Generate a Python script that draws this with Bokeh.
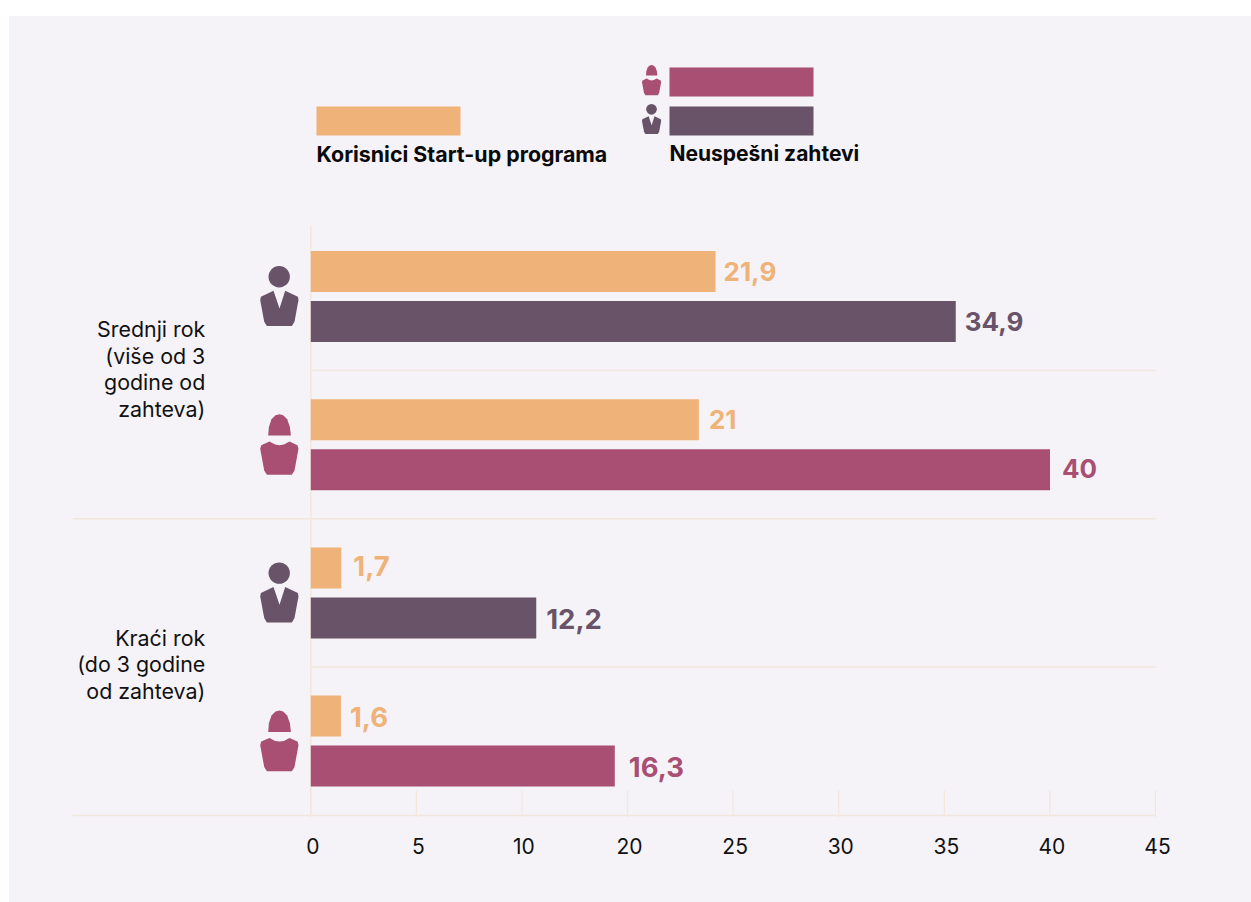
from bokeh.plotting import figure
from bokeh.embed import file_html
from bokeh.resources import INLINE
from bokeh.core.properties import value
from bokeh.models import Range1d, LinearAxis, FixedTicker, GlobalInlineStyleSheet

# ---- data ----
group_labels = ["Srednji rok\n(više od 3\ngodine od\nzahteva)", "Kraći rok\n(do 3 godine\nod zahteva)"]
pair_gender = ["m", "f", "m", "f"]
startup_values = [21.9, 21.0, 1.65, 1.63]
rejected_values = [34.9, 40.0, 12.2, 16.45]
startup_labels = ["21,9", "21", "1,7", "1,6"]
rejected_labels = ["34,9", "40", "12,2", "16,3"]
tick_labels = ["0", "5", "10", "20", "25", "30", "35", "40", "45"]
legend_labels = ["Korisnici Start-up programa", "Neuspešni zahtevi"]

# ---- style ----
ORANGE, PURPLE, MAGENTA = "#EFB278", "#685369", "#A84F73"
PANEL, GRID, INK = "#F5F3F7", "#F2E7DD", "#111111"
FONT = value("Inter")

# ---- geometry (page pixels) ----
PX_UNIT = 18.48          # pixels per data unit on x
X0 = 310.3               # page x of zero
PAIR_TOP, PAIR_STEP = 296.0, 148.2
W, H = 1251, 902
FRAME_L, FRAME_R, FRAME_T, FRAME_B = 72, 1165, 0, 817
LINE_R, BASE_Y = 1155, 815
TICK_STEP = (LINE_R - X0) / 8 / PX_UNIT

def X(px):
    return (px - X0) / PX_UNIT

def Y(py):
    return (py - PAIR_TOP) / PAIR_STEP

p = figure(width=W, height=H, output_backend="svg", toolbar_location=None,
           x_range=Range1d(X(FRAME_L), X(FRAME_R)), y_range=Range1d(Y(FRAME_B), Y(FRAME_T)),
           x_axis_location=None, y_axis_location=None,
           min_border_left=FRAME_L, min_border_right=W - FRAME_R,
           min_border_top=0, min_border_bottom=H - FRAME_B,
           background_fill_color=None, border_fill_color=None, outline_line_color=None)
p.grid.visible = False
# panel behind the figure, running to the window's edges
p.stylesheets = [GlobalInlineStyleSheet(css=(
    f"html{{background:linear-gradient({PANEL},{PANEL}) 9px 16px no-repeat #fff;}}"
    "body{background:transparent;}"))]

# ---- axis: tick labels sit 2px to the right of their tick marks ----
ticks = [i * TICK_STEP for i in range(len(tick_labels))]
shift = 2 / PX_UNIT
label_ticks = [t + shift for t in ticks]
label_axis = LinearAxis(ticker=FixedTicker(ticks=label_ticks),
                        major_label_overrides=dict(zip(label_ticks, tick_labels)),
                        major_tick_in=0, major_tick_out=0, minor_tick_line_color=None,
                        axis_line_color=None, major_tick_line_color=None,
                        major_label_text_font="Inter", major_label_text_font_size="21px",
                        major_label_text_color=INK, major_label_standoff=20)
p.add_layout(label_axis, "below")

# tick marks, baseline, zero line and separators
p.segment(ticks, [Y(790)] * len(ticks), ticks, [Y(817)] * len(ticks), line_color=GRID, line_width=1.2)
p.segment([X(FRAME_L)], [Y(BASE_Y)], [X(LINE_R)], [Y(BASE_Y)], line_color=GRID, line_width=1.5)
p.segment([0], [Y(225)], [0], [Y(BASE_Y)], line_color=GRID, line_width=1.5)
seps = [0.5, 1.5, 2.5]
sep_x0 = [0, X(FRAME_L), 0]
p.segment(sep_x0, seps, [X(LINE_R)] * 3, seps, line_color=GRID, line_width=1.5)

# ---- bars ----
OFFSET = 25 / PAIR_STEP
BAR_H = 41 / PAIR_STEP
pairs = list(range(len(startup_values)))
colors = [PURPLE if g == "m" else MAGENTA for g in pair_gender]
p.hbar(y=[k - OFFSET for k in pairs], right=startup_values, left=0, height=BAR_H, color=ORANGE, line_color=None)
p.hbar(y=[k + OFFSET for k in pairs], right=rejected_values, left=0, height=BAR_H, color=colors, line_color=None)

# ---- value labels ----
startup_gap = [8, 10, 12, 9]
rejected_gap = [9, 12, 10, 14]
startup_lift = [0, 0, -2, 1]
rejected_lift = [0, -1, 1, 1]
label_size = ["26px", "26px", "27.5px", "27.5px"]
for k in pairs:
    p.text([startup_values[k]], [k - OFFSET], text=[startup_labels[k]],
           x_offset=startup_gap[k], y_offset=startup_lift[k], text_color=ORANGE, text_font=FONT,
           text_font_style="bold", text_font_size=label_size[k],
           text_baseline="middle", text_align="left")
    p.text([rejected_values[k]], [k + OFFSET], text=[rejected_labels[k]],
           x_offset=rejected_gap[k], y_offset=rejected_lift[k], text_color=colors[k], text_font=FONT,
           text_font_style="bold", text_font_size=label_size[k],
           text_baseline="middle", text_align="left")

# ---- group labels ----
p.text([0, 0], [0.49, 2.48], text=group_labels, x_offset=[-105.5, -105.5], text_align="right",
       text_baseline="middle", text_font=FONT, text_font_size="21.4px", text_color=INK,
       text_line_height=1.02)

# ---- icons: outlines in page pixels relative to the icon's anchor ----
MAN_BODY = [(-5.7, -5.8), (-18.3, 0.2), (-19, 3.5), (-15, 25.2), (-12.3, 29.5), (12.7, 29.5), (15.3, 25.2),
            (19.3, 3.5), (18.7, 0.2), (6, -5.8), (0.3, 11.9)]
WOMAN_HEAD = [(-11, -9.2), (-10.3, -17.8), (-7.7, -25.5), (-3.7, -29.5), (0.3, -30.5), (4, -29.5),
              (8, -25.5), (10.7, -17.8), (11.7, -9.2)]
WOMAN_BODY = [(-9.7, -3.2), (-4, -0.2), (0.3, 0.5), (4.7, -0.2), (10.3, -3.2), (18.3, 0.5), (19.3, 4.1),
              (15.3, 25.8), (12.7, 30.1), (-12.3, 30.1), (-15, 25.8), (-19, 4.1), (-18, 0.5)]

def draw_icon(kind, cx, cy, s=1.0):
    def patch(pts, color):
        p.patch([X(cx + a * s) for a, b in pts], [Y(cy + b * s) for a, b in pts],
                color=color, line_color=None)
    if kind == "m":
        p.scatter([X(cx)], [Y(cy - 19.8 * s)], size=21.4 * s, color=PURPLE, line_color=None)
        patch(MAN_BODY, PURPLE)
    else:
        patch(WOMAN_HEAD, MAGENTA)
        patch(WOMAN_BODY, MAGENTA)

for k, g in enumerate(pair_gender):
    draw_icon(g, 278.7, PAIR_TOP + k * PAIR_STEP)

# ---- legend ----
draw_icon("f", 651, 79.7, 0.5)
draw_icon("m", 651, 118.7, 0.5)
p.quad(left=[X(316), X(669), X(669)], right=[X(460), X(813), X(813)],
       top=[Y(106), Y(67), Y(106)], bottom=[Y(135), Y(96), Y(135)],
       color=[ORANGE, MAGENTA, PURPLE], line_color=None)
p.text([X(316)], [Y(153)], text=[legend_labels[0]],
       text_font=FONT, text_font_style="bold", text_font_size="21.4px", text_color="#0A0A0A",
       text_baseline="middle", text_align="left")
p.text([X(669)], [Y(153)], text=[legend_labels[1]],
       text_font=FONT, text_font_style="bold", text_font_size="21px", text_color="#0A0A0A",
       text_baseline="middle", text_align="left")

open("out.html", "w").write(file_html(p, INLINE))
